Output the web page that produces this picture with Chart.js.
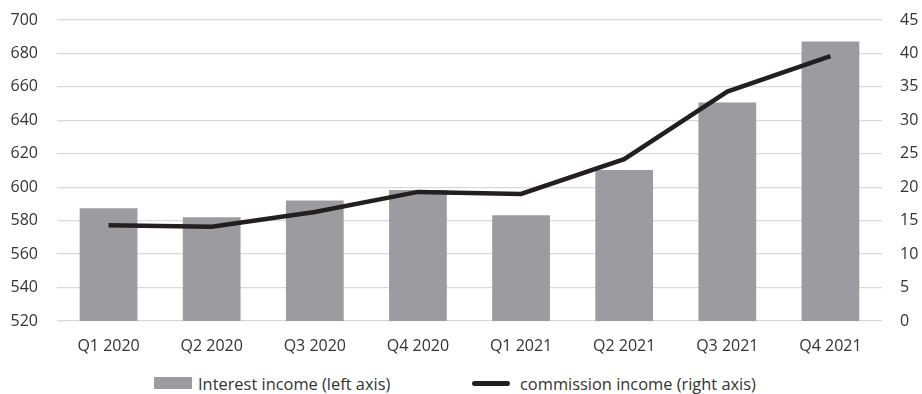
<!DOCTYPE html>
<html><head><meta charset="utf-8">
<script src="https://cdn.jsdelivr.net/npm/chart.js@4"></script>
<style>
body{margin:0;background:#fff;width:922px;height:394px;overflow:hidden;font-family:"Open Sans",sans-serif;}
#wrap{position:relative;width:922px;height:362px;}
#legend{position:absolute;top:372px;left:0;width:922px;height:22px;font-size:16.4px;color:#333;}
.item{position:absolute;top:0;display:flex;align-items:center;height:22px;}
.box{width:38px;height:12px;background:#9c9ca0;margin-right:6px;}
.ln{width:38px;height:5px;background:#231f20;border-radius:3px;margin-right:10px;}
</style></head>
<body>
<div id="wrap"><canvas id="c" width="922" height="362"></canvas></div>
<div id="legend">
 <div class="item" style="left:154px"><div class="box"></div><span>Interest income (left axis)</span></div>
 <div class="item" style="left:472px"><div class="ln"></div><span>commission income (right axis)</span></div>
</div>
<script>
const categories = ["Q1 2020","Q2 2020","Q3 2020","Q4 2020","Q1 2021","Q2 2021","Q3 2021","Q4 2021"];
const interestIncome = [587.5, 582, 592, 598.3, 583.3, 610.3, 650.7, 687.2];
const commissionIncome = [14.3, 14.1, 16.3, 19.3, 19.0, 24.2, 34.3, 39.6];
const font = {family:'"Open Sans",sans-serif', size:16};
new Chart(document.getElementById('c'), {
  data:{
    labels:categories,
    datasets:[
      {type:'line', label:'commission income (right axis)', data:commissionIncome, yAxisID:'y1',
       borderColor:'#231f20', borderWidth:4.5, pointRadius:0, tension:0, order:0},
      {type:'bar', label:'Interest income (left axis)', data:interestIncome, yAxisID:'y',
       backgroundColor:'#9c9ca0', barPercentage:0.56, categoryPercentage:1, order:1}
    ]
  },
  options:{
    responsive:false, animation:false,
    layout:{padding:{top:20,bottom:0,left:0,right:0}},
    plugins:{legend:{display:false}, tooltip:{enabled:false}},
    scales:{
      x:{grid:{display:false}, border:{display:false},
         ticks:{color:'#333', font:font, padding:8, maxRotation:0},
         afterFit(s){s.height=41;}},
      y:{position:'left', min:520, max:700,
         ticks:{stepSize:20, color:'#333', font:font, padding:19},
         grid:{color:'#d9d9d9', drawTicks:false, lineWidth:1.3}, border:{display:false},
         afterFit(s){s.width=57; s.paddingTop=0; s.paddingBottom=0;}},
      y1:{position:'right', min:0, max:45,
         ticks:{stepSize:5, color:'#333', font:font, padding:18},
         grid:{display:false, drawTicks:false}, border:{display:false},
         afterFit(s){s.width=40; s.paddingTop=0; s.paddingBottom=0;}}
    }
  }
});
</script>
</body></html>
